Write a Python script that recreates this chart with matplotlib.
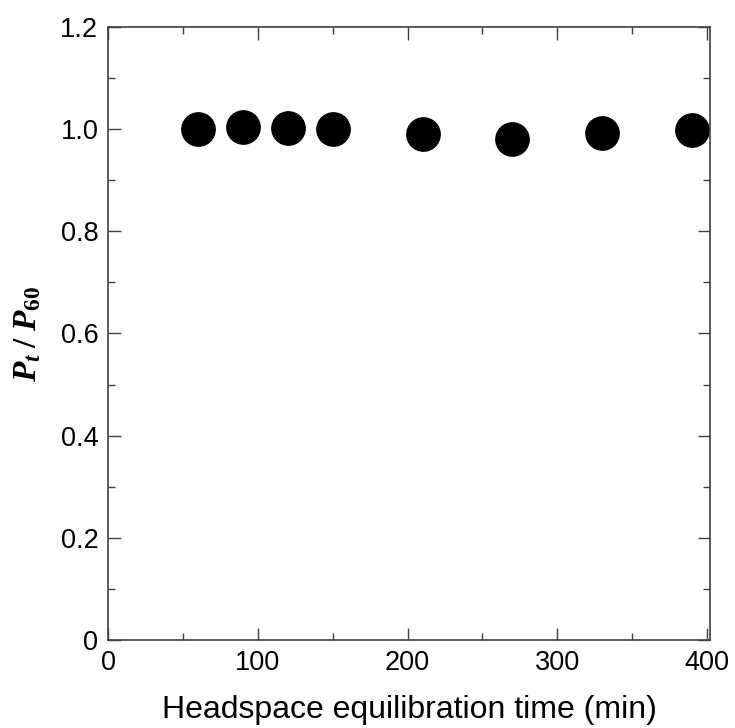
import matplotlib
matplotlib.use("Agg")
import matplotlib.pyplot as plt
from matplotlib.ticker import MultipleLocator, FuncFormatter

time_min = [60, 90, 120, 150, 210, 270, 330, 390]
ratio = [1.000, 1.005, 1.003, 1.000, 0.990, 0.981, 0.993, 0.998]

plt.rcParams['font.family'] = ['Liberation Sans', 'DejaVu Sans']
plt.rcParams['mathtext.fontset'] = 'custom'
plt.rcParams['mathtext.it'] = 'Liberation Serif:bold:italic'
plt.rcParams['mathtext.rm'] = 'Liberation Serif:bold'
plt.rcParams['mathtext.bf'] = 'Liberation Serif:bold'

fig = plt.figure(figsize=(7.35, 7.28), dpi=100)
ax = fig.add_axes([0.147, 0.121, 0.819, 0.842])

ax.plot(time_min, ratio, 'o', color='black', markersize=24, linestyle='none')

ax.set_xlim(0, 402)
ax.set_ylim(0, 1.2)
ax.xaxis.set_major_locator(MultipleLocator(100))
ax.xaxis.set_minor_locator(MultipleLocator(50))
ax.yaxis.set_major_locator(MultipleLocator(0.2))
ax.yaxis.set_minor_locator(MultipleLocator(0.1))
ax.yaxis.set_major_formatter(FuncFormatter(lambda v, p: '0' if abs(v) < 1e-9 else f'{v:.1f}'))

for s in ax.spines.values():
    s.set_color('#404040')
    s.set_linewidth(1.2)
ax.tick_params(which='both', direction='in', top=True, right=True, color='#404040', width=1.0)
ax.tick_params(which='major', length=9, labelsize=19.5, pad=7)
ax.tick_params(which='minor', length=5)

ax.set_xlabel('Headspace equilibration time (min)', fontsize=23, labelpad=14)
ax.set_ylabel(r'$P_t\;/\;P_{60}$', fontsize=24, labelpad=12)

fig.savefig('out.png', dpi=100)
